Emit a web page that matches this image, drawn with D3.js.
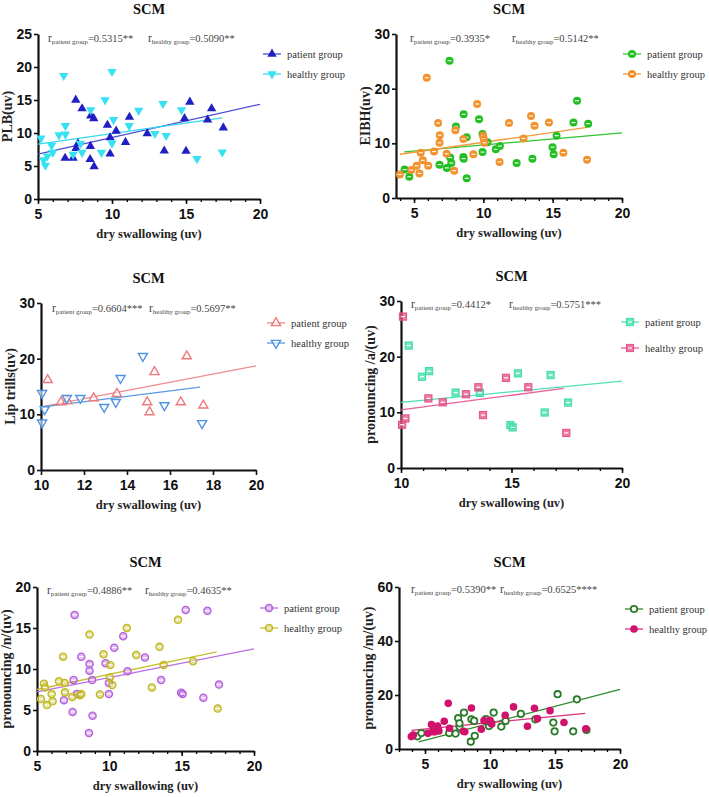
<!DOCTYPE html>
<html>
<head>
<meta charset="utf-8">
<script src="https://cdn.jsdelivr.net/npm/d3@7"></script>
<style>
  body { margin: 0; background: #fff; }
  text { font-family: "Liberation Serif", "Times New Roman", serif; }
  .tick text { font-family: "Liberation Sans", Arial, sans-serif; font-weight: bold; font-size: 14px; fill: #111; }
</style>
</head>
<body>
<script>
// ---- data ----
var groups = ["patient group", "healthy group"];
var title = "SCM";
var xLabel = "dry swallowing (uv)";
var yLabels = ["PLB(uv)", "EIBH(uv)", "Lip trills(uv)", "pronouncing /a/(uv)", "pronouncing /n/(uv)", "pronouncing /m/(uv)"];
var rPatient = ["0.5315**", "0.3935*", "0.6604***", "0.4412*", "0.4886**", "0.5390**"];
var rHealthy = ["0.5090**", "0.5142**", "0.5697**", "0.5751***", "0.4635**", "0.6525****"];

// PLB
var plbPatient = [[7.55,15.0],[7.98,13.7],[8.56,12.6],[8.77,12.2],[9.69,11.2],[10.28,10.3],[11.18,12.4],[12.38,9.9],[10.91,8.6],[9.87,9.3],[9.87,6.85],[8.54,8.0],[7.7,8.4],[7.57,7.7],[6.83,6.2],[7.37,6.2],[8.52,6.0],[8.79,4.9],[13.53,7.3],[15.0,7.25],[14.9,12.2],[15.26,14.7],[16.46,12.0],[16.73,13.7],[17.52,10.8]];
var plbHealthy = [[5.2,9.2],[5.38,5.9],[5.5,5.1],[5.63,6.5],[5.92,8.1],[6.0,7.05],[6.42,9.7],[6.74,18.7],[6.85,11.1],[6.85,9.8],[7.37,6.75],[7.87,8.4],[7.98,7.05],[8.56,13.5],[9.29,7.05],[9.53,15.0],[10.0,19.3],[10.0,8.45],[10.1,12.0],[11.16,11.1],[11.8,13.4],[12.9,9.9],[13.44,14.45],[13.66,9.6],[14.7,13.5],[15.74,6.1],[17.45,7.1]];
var plbPatientFit = [[5,6.8],[20,14.35]];
var plbHealthyFit = [[5,8.3],[17.45,12.3]];

// EIBH
var eibhPatient = [[4.32,5.2],[4.66,3.9],[7.56,25.1],[6.84,6.1],[7.37,5.5],[7.61,7.4],[7.69,6.4],[8.02,13.1],[8.56,7.5],[8.58,7.2],[8.58,15.3],[8.8,11.1],[8.8,3.6],[9.69,14.4],[9.94,11.7],[9.94,8.4],[10.3,10.2],[10.9,8.9],[11.19,9.5],[12.4,6.4],[13.54,7.2],[14.99,9.3],[15.07,8.0],[15.28,11.4],[16.5,13.8],[16.76,17.8],[17.56,13.6]];
var eibhHealthy = [[3.98,4.3],[4.8,5.1],[5.19,5.9],[5.39,4.5],[5.48,8.3],[5.63,6.9],[6.02,5.9],[5.92,22.0],[6.45,8.5],[6.74,13.7],[6.86,11.5],[6.84,10.1],[7.35,8.1],[7.9,5.0],[7.98,12.4],[8.56,10.8],[9.28,8.0],[9.55,17.2],[9.98,11.4],[10.03,10.8],[10.08,10.1],[11.17,6.6],[11.85,13.7],[12.9,10.9],[13.44,15.0],[13.69,13.2],[14.73,13.8],[15.77,8.3],[17.48,7.0]];
var eibhPatientFit = [[4.3,8.45],[20,11.9]];
var eibhHealthyFit = [[3.98,8.0],[17.48,12.9]];

// Lip trills
var lipPatient = [[10.31,16.2],[10.93,12.2],[11.22,12.4],[12.45,12.9],[13.53,13.7],[14.94,12.2],[15.05,10.4],[15.28,17.6],[16.5,12.2],[16.78,20.45],[17.55,11.6]];
var lipHealthy = [[10.05,13.8],[10.05,8.5],[10.17,10.9],[11.2,12.9],[11.83,12.9],[12.94,11.3],[13.48,12.2],[13.7,16.5],[14.74,20.45],[15.74,11.6],[17.49,8.4]];
var lipPatientFit = [[10,11.35],[20,18.7]];
var lipHealthyFit = [[10,11.3],[17.4,14.9]];

// /a/
var aPatient = [[10.35,22.0],[10.95,16.4],[11.27,17.4],[12.47,13.55],[13.57,13.5],[14.95,7.7],[15.05,7.3],[15.29,17.0],[16.5,9.97],[16.77,16.7],[17.56,11.76]];
var aHealthy = [[10.09,27.2],[10.05,7.76],[10.2,8.9],[11.24,12.5],[11.89,11.8],[12.94,13.25],[13.5,14.5],[13.71,9.5],[14.75,16.2],[15.76,14.5],[17.48,6.3]];
var aPatientFit = [[10,11.8],[20,15.6]];
var aHealthyFit = [[10,10.45],[17.36,14.3]];

// /n/
var nPatient = [[7.6,16.6],[6.86,6.2],[7.46,4.77],[7.53,8.65],[7.76,6.95],[8.06,11.5],[8.63,10.6],[8.63,9.8],[8.81,8.65],[8.84,4.3],[8.59,2.2],[9.74,10.7],[9.97,8.3],[9.97,6.95],[10.34,12.6],[10.96,14.0],[11.26,9.74],[12.46,11.4],[13.58,8.65],[14.96,7.1],[15.07,6.95],[15.28,17.2],[16.5,6.5],[16.78,17.1],[17.58,8.1]];
var nHealthy = [[5.28,6.35],[5.48,8.2],[5.55,7.75],[5.69,5.6],[6.01,6.95],[6.08,6.06],[6.52,8.5],[6.8,11.5],[6.91,8.3],[6.93,7.15],[7.44,6.6],[7.97,6.8],[8.06,6.95],[8.63,14.2],[9.35,6.9],[9.6,11.8],[10.06,10.5],[10.04,8.97],[10.2,8.04],[11.21,15.0],[11.86,11.7],[12.94,7.75],[13.47,12.7],[13.75,10.5],[14.75,16.0],[15.79,10.95],[17.49,5.17]];
var nPatientFit = [[5,7.2],[20,12.45]];
var nHealthyFit = [[5,7.5],[17.42,12.1]];

// /m/
var mPatient = [[4.41,4.7],[4.72,5.9],[6.86,5.9],[7.35,5.7],[7.55,11.4],[7.65,8.3],[7.65,9.5],[8.0,13.5],[8.52,2.7],[8.57,11.0],[8.78,10.4],[8.83,4.9],[9.69,11.1],[9.92,8.5],[10.05,9.8],[10.28,13.5],[10.87,8.3],[11.2,10.4],[12.37,13.0],[13.49,11.0],[14.87,9.8],[14.97,6.55],[15.2,20.3],[16.4,6.55],[16.68,18.4],[17.42,7.05]];
var mHealthy = [[3.95,4.6],[4.1,5.2],[5.23,5.8],[5.5,9.1],[5.6,6.4],[5.77,6.4],[5.97,8.5],[6.07,6.7],[6.48,10.3],[6.79,16.9],[6.89,7.7],[7.96,6.55],[8.06,6.4],[8.57,15.2],[9.33,7.3],[9.54,10.5],[10.0,10.6],[10.13,9.3],[11.17,12.5],[11.81,15.6],[12.88,8.4],[13.42,15.1],[13.65,11.25],[14.62,14.2],[15.69,9.8],[17.37,7.5]];
var mPatientFit = [[4.52,2.6],[20,22.1]];
var mHealthyFit = [[3.95,6.9],[17.32,13.2]];

// ---- layout / styles ----
var panels = [
  { box: [38, 260, 34, 199], xDom: [5, 20], xMajor: [5, 10, 15, 20], xMinor: d3.range(5, 21, 1), yDom: [0, 25], yTicks: [0, 5, 10, 15, 20, 25],
    rx: [10, 110], ry: 8, leg: [3, 20, 40],
    series: [
      { pts: plbPatient, fit: plbPatientFit, shape: "triUp", color: "#1f1fc4", line: "#4b4bd6" },
      { pts: plbHealthy, fit: plbHealthyFit, shape: "triDown", color: "#36e2f2", line: "#36d8f0" }] },
  { box: [396, 622, 34, 198], xDom: [3.7, 20], xMajor: [5, 10, 15, 20], xMinor: d3.range(4, 21, 1), yDom: [0, 30], yTicks: [0, 10, 20, 30],
    rx: [14, 116], ry: 8, leg: [1, 20, 40],
    series: [
      { pts: eibhPatient, fit: eibhPatientFit, shape: "dot", color: "#22bf22", line: "#2ec52e" },
      { pts: eibhHealthy, fit: eibhHealthyFit, shape: "dot", color: "#f2922e", line: "#f29a3e" }] },
  { box: [41, 256, 303, 470], xDom: [10, 20], xMajor: [10, 12, 14, 16, 18, 20], xMinor: [], yDom: [0, 30], yTicks: [0, 10, 20, 30],
    rx: [11, 108], ry: 9, leg: [11, 20, 40],
    series: [
      { pts: lipPatient, fit: lipPatientFit, shape: "openUp", color: "#ef7a7e", line: "#f08a8c" },
      { pts: lipHealthy, fit: lipHealthyFit, shape: "openDown", color: "#4f93e4", line: "#5a9ae6" }] },
  { box: [401, 622, 301, 468], xDom: [10, 20], xMajor: [10, 15, 20], xMinor: d3.range(10, 21, 1), yDom: [0, 30], yTicks: [0, 10, 20, 30],
    rx: [10, 108], ry: 7, leg: [-1, 21, 47],
    series: [
      { pts: aPatient, fit: aPatientFit, shape: "square", color: "#3ddcaa", line: "#4fe0b4" },
      { pts: aHealthy, fit: aHealthyFit, shape: "square", color: "#e64f86", line: "#e8609a" }] },
  { box: [37, 254, 587, 751], xDom: [5, 20], xMajor: [5, 10, 15, 20], xMinor: d3.range(5, 21, 1), yDom: [0, 20], yTicks: [0, 5, 10, 15, 20],
    rx: [10, 108], ry: 7, leg: [6, 21, 41],
    series: [
      { pts: nPatient, fit: nPatientFit, shape: "ring", color: "#b560de", line: "#bb6ee2" },
      { pts: nHealthy, fit: nHealthyFit, shape: "ring", color: "#c0b81e", line: "#c8c030" }] },
  { box: [399, 620, 587, 749], xDom: [3, 20], xMajor: [5, 10, 15, 20], xMinor: d3.range(3, 21, 1), yDom: [0, 60], yTicks: [0, 20, 40, 60],
    rx: [12, 101], ry: 6, leg: [5, 22, 42],
    series: [
      { pts: mPatient, fit: mPatientFit, shape: "open", color: "#2a7a2a", line: "#2f8a2f" },
      { pts: mHealthy, fit: mHealthyFit, shape: "filled", color: "#d0126c", line: "#d8307c" }] }
];

var svg = d3.select("body").append("svg").attr("width", 709).attr("height", 797);

function drawMarker(g, shape, color) {
  if (shape === "triUp" || shape === "triDown") {
    g.append("path").attr("d", d3.symbol(d3.symbolTriangle, 38)())
      .attr("transform", shape === "triDown" ? "rotate(180)" : null)
      .attr("fill", color);
  } else if (shape === "openUp" || shape === "openDown") {
    g.append("path").attr("d", d3.symbol(d3.symbolTriangle, 36)())
      .attr("transform", shape === "openDown" ? "rotate(180)" : null)
      .attr("fill", "#fff").attr("fill-opacity", 0.6)
      .attr("stroke", color).attr("stroke-width", 1.4);
  } else if (shape === "dot") {
    g.append("circle").attr("r", 4).attr("fill", color);
    g.append("line").attr("x1", -2).attr("x2", 2).attr("stroke", "#fff").attr("stroke-width", 1.2).attr("opacity", 0.9);
  } else if (shape === "ring") {
    g.append("circle").attr("r", 3.6).attr("fill", color).attr("fill-opacity", 0.45)
      .attr("stroke", color).attr("stroke-width", 1.3);
    g.append("line").attr("x1", -2.2).attr("x2", 2.2).attr("stroke", "#fff").attr("stroke-width", 1.2);
  } else if (shape === "square") {
    g.append("rect").attr("x", -3.6).attr("y", -3.6).attr("width", 7.2).attr("height", 7.2)
      .attr("fill", color).attr("fill-opacity", 0.75).attr("stroke", color).attr("stroke-width", 1);
    g.append("line").attr("x1", -2).attr("x2", 2).attr("stroke", "#fff").attr("stroke-width", 1.2);
  } else if (shape === "open") {
    g.append("circle").attr("r", 3.2).attr("fill", "#fff").attr("stroke", color).attr("stroke-width", 1.8);
  } else {
    g.append("circle").attr("r", 3.8).attr("fill", color);
  }
}

panels.forEach(function (p, i) {
  var L = p.box[0], R = p.box[1], T = p.box[2], B = p.box[3];
  var x = d3.scaleLinear().domain(p.xDom).range([L, R]);
  var y = d3.scaleLinear().domain(p.yDom).range([B, T]);
  var g = svg.append("g");

  // title
  g.append("text").attr("x", (L + R) / 2).attr("y", T - 20)
    .attr("text-anchor", "middle").attr("font-weight", "bold").attr("font-size", 14.5)
    .attr("fill", "#111").text(title);

  // axes
  var xa = g.append("g").attr("transform", "translate(0," + B + ")")
    .call(d3.axisBottom(x).tickValues(p.xMajor).tickSize(5).tickSizeOuter(0).tickPadding(5).tickFormat(d3.format("d")));
  g.append("g").attr("transform", "translate(0," + B + ")")
    .call(d3.axisBottom(x).tickValues(p.xMinor).tickSize(3).tickSizeOuter(0).tickFormat(""))
    .call(function (s) { s.select(".domain").remove(); s.selectAll("line").attr("stroke-width", 1.3); });
  var ya = g.append("g").attr("transform", "translate(" + L + ",0)")
    .call(d3.axisLeft(y).tickValues(p.yTicks).tickSize(4).tickSizeOuter(0).tickPadding(2).tickFormat(d3.format("d")));
  [xa, ya].forEach(function (a) {
    a.select(".domain").attr("stroke", "#111").attr("stroke-width", 2.2);
    a.selectAll(".tick line").attr("stroke", "#111").attr("stroke-width", 1.6);
  });

  // axis labels
  g.append("text").attr("x", (L + R) / 2).attr("y", B + 39)
    .attr("text-anchor", "middle").attr("font-weight", "bold").attr("font-size", 12.5)
    .attr("fill", "#222").text(xLabel);
  g.append("text").attr("transform", "translate(" + (L - 26) + "," + ((T + B) / 2) + ") rotate(-90)")
    .attr("text-anchor", "middle").attr("font-weight", "bold").attr("font-size", 14)
    .attr("fill", "#222").text(yLabels[i]);

  // correlation notes
  [[rPatient[i], groups[0]], [rHealthy[i], groups[1]]].forEach(function (r, k) {
    var t = g.append("text").attr("x", L + p.rx[k]).attr("y", T + p.ry).attr("fill", "#444");
    t.append("tspan").attr("font-size", 11.5).text("r");
    t.append("tspan").attr("font-size", 6.8).attr("dy", 2).text(r[1]);
    t.append("tspan").attr("font-size", 10.5).attr("dy", -2).text("=" + r[0]);
  });

  // fit lines + points
  p.series.forEach(function (s) {
    g.append("line")
      .attr("x1", x(s.fit[0][0])).attr("y1", y(s.fit[0][1]))
      .attr("x2", x(s.fit[1][0])).attr("y2", y(s.fit[1][1]))
      .attr("stroke", s.line).attr("stroke-width", 1.3);
  });
  p.series.forEach(function (s) {
    g.selectAll(null).data(s.pts).enter().append("g")
      .attr("transform", function (d) { return "translate(" + x(d[0]) + "," + y(d[1]) + ")"; })
      .each(function () { drawMarker(d3.select(this), s.shape, s.color); });
  });

  // legend
  p.series.forEach(function (s, k) {
    var lx = R + p.leg[0], ly = T + p.leg[k + 1];
    g.append("line").attr("x1", lx).attr("x2", lx + 18).attr("y1", ly).attr("y2", ly)
      .attr("stroke", s.line).attr("stroke-width", 1.3);
    drawMarker(g.append("g").attr("transform", "translate(" + (lx + 9) + "," + ly + ")"), s.shape, s.color);
    g.append("text").attr("x", lx + 24).attr("y", ly).attr("dy", "0.35em")
      .attr("font-size", 10.5).attr("fill", "#333").text(groups[k]);
  });
});
</script>
</body>
</html>
